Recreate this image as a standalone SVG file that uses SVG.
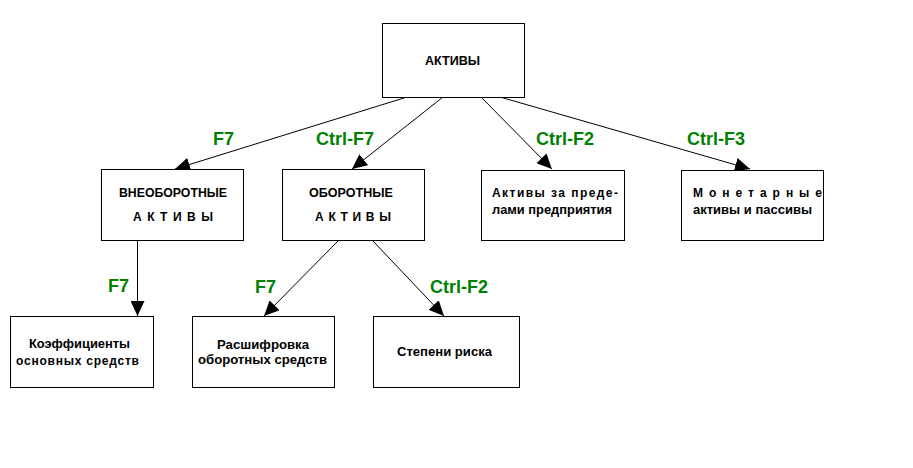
<svg xmlns="http://www.w3.org/2000/svg" width="913" height="468" viewBox="0 0 913 468">
<style>
.box{fill:#fff;stroke:#000;stroke-width:1}
.t{font-family:"Liberation Sans",Arial,sans-serif;font-weight:bold;font-size:12px;fill:#000}
.k{font-family:"Liberation Sans",Arial,sans-serif;font-weight:bold;font-size:18px;fill:#008000}
.ln{stroke:#000;stroke-width:1;fill:none;marker-end:url(#ah)}
</style>
<defs>
<marker id="ah" viewBox="0 0 15 14" refX="15" refY="7" markerWidth="15" markerHeight="14" orient="auto" markerUnits="userSpaceOnUse">
<path d="M0,0 L15,7 L0,14 z" fill="#000"/>
</marker>
</defs>
<rect width="913" height="468" fill="#fff"/>
<g id="connectors">
<line class="ln" x1="407" y1="97" x2="175" y2="169"/>
<line class="ln" x1="443" y1="97" x2="352" y2="169"/>
<line class="ln" x1="481" y1="97" x2="552" y2="169"/>
<line class="ln" x1="500" y1="97" x2="750" y2="169"/>
<line class="ln" x1="137.5" y1="241" x2="137.5" y2="316"/>
<line class="ln" x1="338" y1="241" x2="264" y2="316"/>
<line class="ln" x1="373" y1="241" x2="444" y2="316"/>
<text class="k" x="213" y="145">F7</text>
<text class="k" x="316" y="145">Ctrl-F7</text>
<text class="k" x="536" y="145">Ctrl-F2</text>
<text class="k" x="687" y="145">Ctrl-F3</text>
<text class="k" x="108" y="292">F7</text>
<text class="k" x="255" y="293">F7</text>
<text class="k" x="430" y="293">Ctrl-F2</text>
</g>
<g id="aktivy">
<rect class="box" x="382.5" y="23.5" width="142" height="74"/>
<text class="t" x="425" y="65" textLength="55" lengthAdjust="spacingAndGlyphs">АКТИВЫ</text>
</g>
<g id="vneoborotnye">
<rect class="box" x="101.5" y="169.5" width="142" height="71"/>
<text class="t" x="119" y="197" textLength="108" lengthAdjust="spacingAndGlyphs">ВНЕОБОРОТНЫЕ</text>
<text class="t" x="133" y="221" textLength="80" lengthAdjust="spacing">А К Т И В Ы</text>
</g>
<g id="oborotnye">
<rect class="box" x="282.5" y="169.5" width="142" height="71"/>
<text class="t" x="309" y="197" textLength="84" lengthAdjust="spacingAndGlyphs">ОБОРОТНЫЕ</text>
<text class="t" x="315" y="221" textLength="76" lengthAdjust="spacing">А К Т И В Ы</text>
</g>
<g id="za-predelami">
<rect class="box" x="481.5" y="170.5" width="143" height="70"/>
<text class="t" x="492" y="197" textLength="126" lengthAdjust="spacing">Активы за преде-</text>
<text class="t" x="492" y="214" textLength="120" lengthAdjust="spacingAndGlyphs">лами предприятия</text>
</g>
<g id="monetarnye">
<rect class="box" x="681.5" y="170.5" width="142" height="70"/>
<text class="t" x="693" y="197" textLength="129" lengthAdjust="spacing">М о н е т а р н ы е</text>
<text class="t" x="693" y="214" textLength="119" lengthAdjust="spacingAndGlyphs">активы и пассивы</text>
</g>
<g id="koeff">
<rect class="box" x="10.5" y="316.5" width="143" height="71"/>
<text class="t" x="29" y="348" textLength="101" lengthAdjust="spacingAndGlyphs">Коэффициенты</text>
<text class="t" x="16" y="365" textLength="123" lengthAdjust="spacing">основных  средств</text>
</g>
<g id="rasshifrovka">
<rect class="box" x="192.5" y="316.5" width="142" height="71"/>
<text class="t" x="217" y="349" textLength="92" lengthAdjust="spacingAndGlyphs">Расшифровка</text>
<text class="t" x="198" y="364" textLength="129" lengthAdjust="spacingAndGlyphs">оборотных средств</text>
</g>
<g id="stepeni">
<rect class="box" x="373.5" y="316.5" width="146" height="71"/>
<text class="t" x="397" y="356" textLength="95" lengthAdjust="spacingAndGlyphs">Степени риска</text>
</g>
</svg>
